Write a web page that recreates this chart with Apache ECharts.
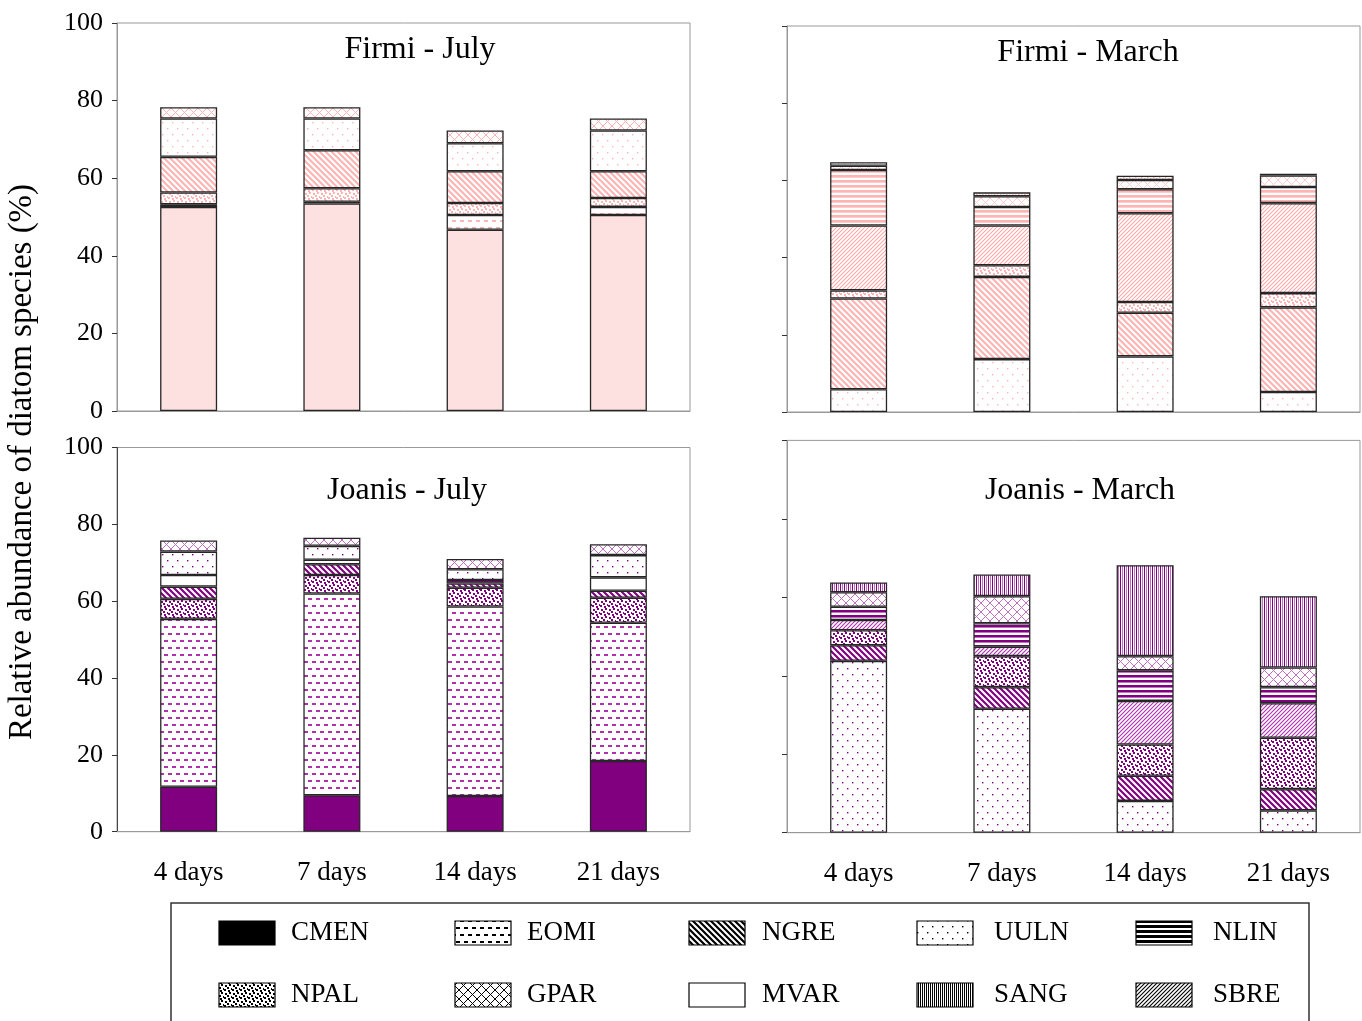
<!DOCTYPE html>
<html><head><meta charset="utf-8">
<script src="https://cdn.jsdelivr.net/npm/echarts@6/dist/echarts.min.js"></script>
<style>html,body{margin:0;padding:0;background:#fff}#c{width:1362px;height:1021px}</style>
</head><body><div id="c"></div>
<script>
// ---------- DATA ----------
const days = ['4 days', '7 days', '14 days', '21 days'];
const yTickStep = 20;

// Firmi - July (stack bottom -> top)
const fjCMEN = [52.6, 53.5, 46.7, 50.5];
const fjEOMI = [0.7, 0.4, 3.8, 2.1];
const fjNPAL = [3.0, 3.5, 3.1, 2.3];
const fjNGRE = [9.2, 9.8, 8.2, 6.9];
const fjUULN = [9.9, 8.2, 7.2, 10.5];
const fjGPAR = [2.9, 2.9, 3.3, 3.1];

// Firmi - March
const fmUULN = [5.9, 13.7, 14.4, 5.2];
const fmNGRE = [23.5, 21.3, 11.3, 21.9];
const fmNPAL = [2.1, 3.0, 2.8, 3.7];
const fmSBRE = [16.8, 10.3, 23.0, 23.3];
const fmNLIN = [14.4, 4.8, 6.2, 4.2];
const fmGPAR = [1.1, 2.8, 2.4, 3.0];
const fmTOP  = [0.9, 1.0, 1.1, null];
const fmCMEN = [null, null, null, 0.4];

// Joanis - July
const jjCMEN = [11.7, 9.5, 9.3, 18.4];
const jjEOMI = [43.7, 52.5, 49.3, 36.0];
const jjNPAL = [5.2, 4.8, 4.9, 6.5];
const jjNGRE = [3.2, 2.8, 1.1, 1.8];
const jjNLIN = [null, null, 0.9, null];
const jjMVAR = [3.0, 1.2, null, 3.5];
const jjUULN = [6.1, 3.6, 2.8, 5.8];
const jjGPAR = [2.9, 2.1, 2.7, 2.8];

// Joanis - March
const jmUULN = [43.8, 31.6, 8.1, 5.7];
const jmNGRE = [4.0, 5.5, 6.4, 5.4];
const jmNPAL = [3.8, 7.9, 8.0, 13.1];
const jmSBRE = [2.6, 2.4, 11.1, 8.8];
const jmNLIN = [3.4, 6.0, 7.8, 4.1];
const jmGPAR = [3.7, 6.9, 3.6, 5.0];
const jmSANG = [2.5, 5.5, 23.2, 18.2];

// Legend entries
const legendRow1 = ['CMEN', 'EOMI', 'NGRE', 'UULN', 'NLIN'];
const legendRow2 = ['NPAL', 'GPAR', 'MVAR', 'SANG', 'SBRE'];

// ---------- STYLE ----------
const FONT = '"Liberation Serif", "Times New Roman", serif';
const PURPLE = '#800080', PURPLE_L = '#c070c0', PURPLE_D = '#b030b0';
const PINK = '#ffb4b4', PINK_L = '#ffcccc', PINK_S = '#fde0e0';

function tile(kind, c, c2, solid, c3) {
  if (kind === 'CMEN') return solid || c;
  if (kind === 'MVAR') return '#ffffff';
  const cv = document.createElement('canvas');
  const dims = {EOMI: [8, 14], NGRE: [6, 6], SBRE: [4, 4], NPAL: [8, 8], UULN: [10, 12],
                NLIN: [4, 5], SANG: [4, 4], GPAR: [9, 9], TOP: [6, 4]};
  const w = dims[kind][0], h = dims[kind][1];
  cv.width = w; cv.height = h;
  const g = cv.getContext('2d');
  g.fillStyle = '#fff'; g.fillRect(0, 0, w, h);
  g.fillStyle = c; g.strokeStyle = c;
  if (kind === 'EOMI') {
    g.fillStyle = c3 || c;
    g.fillRect(0, 3, 4, 2); g.fillRect(4, 10, 4, 2);
  } else if (kind === 'NGRE') {
    g.lineWidth = 2.2; g.beginPath();
    for (let k = -1; k <= 1; k++) { g.moveTo(k * w - 1, -1); g.lineTo(k * w + w + 1, h + 1); }
    g.stroke();
  } else if (kind === 'SBRE') {
    g.lineWidth = 1.1; g.strokeStyle = c3 || c; g.beginPath();
    for (let k = -1; k <= 1; k++) { g.moveTo(k * w - 1, h + 1); g.lineTo(k * w + w + 1, -1); }
    g.stroke();
  } else if (kind === 'NPAL') {
    [[1,1],[5,0],[3,3],[7,4],[0,5],[4,6]].forEach(p => g.fillRect(p[0], p[1], 2, 2));
  } else if (kind === 'TOP') {
    [[1,1],[4,2]].forEach(p => g.fillRect(p[0], p[1], 1.5, 1.5));
  } else if (kind === 'UULN') {
    g.fillRect(2, 2, 1.4, 1.4); g.fillRect(7, 8, 1.4, 1.4);
  } else if (kind === 'NLIN') {
    g.fillRect(0, 0, w, 2); g.fillStyle = c2; g.fillRect(0, 2, w, 1);
  } else if (kind === 'SANG') {
    g.fillRect(0, 0, 1, h); g.fillStyle = c2; g.fillRect(2, 0, 1, h);
  } else if (kind === 'GPAR') {
    g.lineWidth = 1; g.strokeStyle = c2; g.beginPath();
    g.moveTo(0, 0); g.lineTo(w, h); g.moveTo(w, 0); g.lineTo(0, h); g.stroke();
  }
  return {image: cv, repeat: 'repeat'};
}

// ---------- LAYOUT ----------
const grids = [
  {left: 117, right: 672, top: 23, bottom: 610},
  {left: 787, right: 2, top: 26, bottom: 609},
  {left: 117, right: 672, top: 447.5, bottom: 189.3},
  {left: 787, right: 2, top: 440.4, bottom: 188.3}
];

const xAxis = grids.map((g, i) => ({
  gridIndex: i, type: 'category', data: days,
  axisLine: {lineStyle: {color: '#999', width: 1}},
  axisTick: {show: false},
  axisLabel: {show: i >= 2, color: '#000', fontFamily: FONT, fontSize: 27, margin: 28}
}));
const yAxis = grids.map((g, i) => ({
  gridIndex: i, type: 'value', min: 0, max: 100, interval: yTickStep,
  axisLine: {show: true, lineStyle: {color: i === 2 ? '#444' : '#999', width: 1}},
  axisTick: {show: true, length: 5, lineStyle: {color: '#333'}},
  splitLine: {show: false},
  axisLabel: {show: i % 2 === 0, color: '#000', fontFamily: FONT, fontSize: 26, margin: 14}
}));

const series = [];
function addPanel(gi, layers, c, c2, solid, c3) {
  layers.forEach(([name, data, kind]) => series.push({
    type: 'bar', name: name, xAxisIndex: gi, yAxisIndex: gi, stack: 's' + gi,
    data: data, barWidth: 57,
    itemStyle: {color: tile(kind, c, c2, solid, c3), borderColor: '#262626', borderWidth: 1.3},
    emphasis: {disabled: true}
  }));
}
addPanel(0, [['CMEN', fjCMEN, 'CMEN'], ['EOMI', fjEOMI, 'EOMI'], ['NPAL', fjNPAL, 'NPAL'],
             ['NGRE', fjNGRE, 'NGRE'], ['UULN', fjUULN, 'UULN'], ['GPAR', fjGPAR, 'GPAR']],
         PINK, PINK, PINK_S, PINK);
addPanel(1, [['UULN', fmUULN, 'UULN'], ['NGRE', fmNGRE, 'NGRE'], ['NPAL', fmNPAL, 'NPAL'],
             ['SBRE', fmSBRE, 'SBRE'], ['NLIN', fmNLIN, 'NLIN'], ['GPAR', fmGPAR, 'GPAR'],
             ['other', fmTOP, 'TOP'], ['CMEN', fmCMEN, 'CMEN']],
         PINK, PINK_L, PINK_S, '#ffa8a8');
addPanel(2, [['CMEN', jjCMEN, 'CMEN'], ['EOMI', jjEOMI, 'EOMI'], ['NPAL', jjNPAL, 'NPAL'],
             ['NGRE', jjNGRE, 'NGRE'], ['NLIN', jjNLIN, 'NLIN'], ['MVAR', jjMVAR, 'MVAR'],
             ['UULN', jjUULN, 'UULN'], ['GPAR', jjGPAR, 'GPAR']],
         PURPLE, PURPLE_L, PURPLE, PURPLE_D);
addPanel(3, [['UULN', jmUULN, 'UULN'], ['NGRE', jmNGRE, 'NGRE'], ['NPAL', jmNPAL, 'NPAL'],
             ['SBRE', jmSBRE, 'SBRE'], ['NLIN', jmNLIN, 'NLIN'], ['GPAR', jmGPAR, 'GPAR'],
             ['SANG', jmSANG, 'SANG']],
         PURPLE, PURPLE_L, PURPLE, PURPLE_D);

// ---------- GRAPHICS (titles, y name, legend) ----------
const graphic = [];
const titles = [['Firmi - July', 420, 50], ['Firmi - March', 1088, 53], ['Joanis - July', 407, 491], ['Joanis - March', 1080, 491]];
titles.forEach(t => graphic.push({type: 'text', x: t[1], y: t[2],
  style: {text: t[0], font: '32px ' + FONT, fill: '#000', align: 'center', verticalAlign: 'middle'}}));
graphic.push({type: 'text', x: 22, y: 462, rotation: Math.PI / 2,
  style: {text: 'Relative abundance of diatom species (%)', font: '33px ' + FONT, fill: '#000', align: 'center', verticalAlign: 'middle'}});
graphic.push({type: 'rect', shape: {x: 171, y: 903, width: 1138, height: 130},
  style: {fill: '#fff', stroke: '#333', lineWidth: 1.5}});
const swX = [219, 455, 689, 917, 1136];
const txX = [291, 527, 762, 994, 1213];
[legendRow1, legendRow2].forEach((row, r) => row.forEach((name, i) => {
  const cy = r === 0 ? 933 : 995;
  graphic.push({type: 'rect', shape: {x: swX[i], y: cy - 12, width: 56, height: 24},
    style: {fill: tile(name, '#000', '#000', '#000', '#000'), stroke: '#000', lineWidth: 1.2}});
  graphic.push({type: 'text', x: txX[i], y: cy,
    style: {text: name, font: '27px ' + FONT, fill: '#000', align: 'left', verticalAlign: 'middle'}});
}));

const chart = echarts.init(document.getElementById('c'), null, {renderer: 'canvas'});
chart.setOption({
  animation: false,
  backgroundColor: '#fff',
  grid: grids.map(g => Object.assign({show: true, borderColor: '#999', borderWidth: 1, backgroundColor: 'transparent'}, g)),
  xAxis: xAxis, yAxis: yAxis, series: series, graphic: graphic
});
</script>
</body></html>
